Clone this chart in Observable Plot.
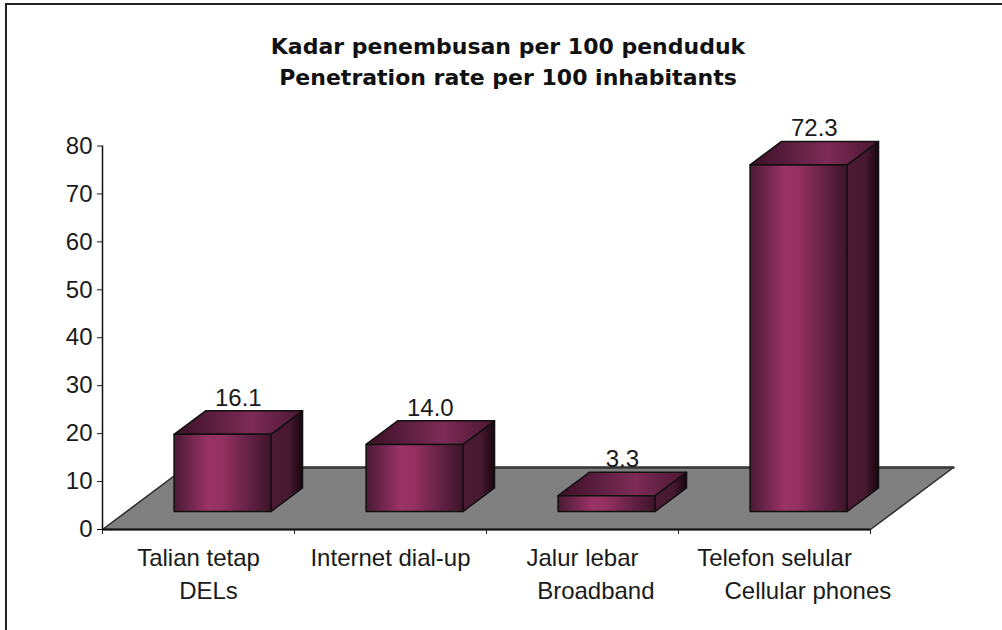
<!DOCTYPE html>
<html>
<head>
<meta charset="utf-8">
<script src="https://cdn.jsdelivr.net/npm/d3@7"></script>
<script src="https://cdn.jsdelivr.net/npm/@observablehq/plot@0.6"></script>
<style>
  html, body { margin: 0; padding: 0; background: #fff; overflow: hidden; }
  #page { position: relative; width: 1002px; height: 630px; overflow: hidden; background: #fff; }
  #border { position: absolute; left: 5px; top: 3px; width: 1100px; height: 700px; border-left: 2px solid #222; border-top: 2px solid #222; box-sizing: border-box; pointer-events: none; }
  #title { position: absolute; left: 0; top: 31px; width: 1002px; padding-left: 14px; box-sizing: border-box; text-align: center; font: bold 22px/31px "DejaVu Sans", sans-serif; color: #111; }
  #chart { position: absolute; left: 0; top: 100px; }
</style>
</head>
<body>
<div id="page">
  <div id="border"></div>
  <div id="title"></div>
  <div id="chart"></div>
</div>
<script>
// ---- data ----
const titleLines = ["Kadar penembusan per 100 penduduk", "Penetration rate per 100 inhabitants"];
const categories = ["Talian tetap", "Internet dial-up", "Jalur lebar", "Telefon selular"];
const categoriesEn = ["\u00a0\u00a0\u00a0DELs", "", "\u00a0\u00a0\u00a0\u00a0Broadband", "\u00a0\u00a0\u00a0\u00a0\u00a0\u00a0\u00a0\u00a0\u00a0\u00a0Cellular phones"];
const values = [16.1, 14.0, 3.3, 72.3];
const yTicks = [0, 10, 20, 30, 40, 50, 60, 70, 80];

// ---- title ----
const titleEl = document.getElementById("title");
titleLines.forEach((t, i) => {
  if (i) titleEl.appendChild(document.createElement("br"));
  titleEl.appendChild(document.createTextNode(t));
});

// ---- 3D projection (in data units) ----
const DX = 0.432;  // floor depth along x (category units)
const DY = 12.93;  // floor depth along y (value units)
const F1 = 0.29, F2 = 0.67; // bar front/back depth fractions
const W = 0.505;   // bar width (category units)
const P = (c, f, v) => ({x: c + f * DX, y: v + f * DY});

const boundaries = d3.range(categories.length + 1);
const floor = [[0, 0], [categories.length, 0], [categories.length, 1], [0, 1]]
  .map(([c, f]) => ({...P(c, f, 0), id: "floor"}));
const floorBack = [[0, 1], [categories.length, 1]].map(([c, f]) => ({...P(c, f, 0)}));
const front = [], topF = [], side = [];
values.forEach((v, i) => {
  const L = i + 0.5 - W / 2, R = i + 0.5 + W / 2;
  front.push(...[[L, F1, 0], [R, F1, 0], [R, F1, v], [L, F1, v]].map(p => ({...P(...p), id: i})));
  topF.push(...[[L, F1, v], [R, F1, v], [R, F2, v], [L, F2, v]].map(p => ({...P(...p), id: i})));
  side.push(...[[R, F1, 0], [R, F2, 0], [R, F2, v], [R, F1, v]].map(p => ({...P(...p), id: i})));
});

const defs = () => {
  const g = d3.create("svg:defs");
  const mk = (id, stops) => {
    const lg = g.append("linearGradient").attr("id", id)
      .attr("x1", 0).attr("x2", 1).attr("y1", 0).attr("y2", 0);
    stops.forEach(([o, c]) => lg.append("stop").attr("offset", o).attr("stop-color", c));
  };
  mk("gFront", [[0, "#4a1a33"], [0.35, "#993366"], [0.5, "#94305f"], [0.8, "#5e2040"], [1, "#3e1329"]]);
  mk("gTop", [[0, "#3a1026"], [0.6, "#7d2b55"], [1, "#4a1731"]]);
  mk("gSide", [[0, "#4c1a33"], [0.6, "#461830"], [1, "#150509"]]);
  return g.node();
};

const chart = Plot.plot({
  width: 1002,
  height: 530,
  marginLeft: 102,
  marginRight: 132,
  marginTop: 45.5,
  marginBottom: 101,
  style: {fontFamily: "'Liberation Sans', Arial, sans-serif", fontSize: "24px", color: "#1a1a1a", background: "transparent", overflow: "visible"},
  x: {type: "linear", domain: [0, categories.length]},
  y: {type: "linear", domain: [0, 80]},
  marks: [
    defs,
    Plot.line(floor, {x: "x", y: "y", z: "id", curve: "linear-closed", fill: "#808080", stroke: "#2a2a2a", strokeWidth: 1.5}),
    Plot.line(floorBack, {x: "x", y: "y", stroke: "#3a3a3a", strokeWidth: 2.5}),
    Plot.line(side, {x: "x", y: "y", z: "id", curve: "linear-closed", fill: "url(#gSide)", stroke: "#111", strokeWidth: 1.5}),
    Plot.line(topF, {x: "x", y: "y", z: "id", curve: "linear-closed", fill: "url(#gTop)", stroke: "#111", strokeWidth: 1.5}),
    Plot.line(front, {x: "x", y: "y", z: "id", curve: "linear-closed", fill: "url(#gFront)", stroke: "#111", strokeWidth: 1.5}),
    Plot.ruleX([0], {y1: 0, y2: 80, stroke: "#111", strokeWidth: 1.5}),
    Plot.ruleY([0], {x1: 0, x2: categories.length, stroke: "#111", strokeWidth: 2}),
    Plot.axisY({ticks: yTicks, tickSize: 5, tickPadding: 5, label: null, tickFormat: d => String(d), fontSize: 24}),
    Plot.axisX({ticks: boundaries, tickSize: 5, label: null, tickFormat: () => ""}),
    Plot.text(values, {x: (d, i) => i + 0.5 + (F1 + F2) / 2 * DX, y: d => d + F2 * DY, text: d => d3.format(".1f")(d), dy: -5, lineAnchor: "bottom", fontSize: 24, fill: "#1a1a1a"}),
    Plot.text(categories, {x: (d, i) => i + 0.5, y: 0, text: d => d, dy: 36, lineAnchor: "bottom", fontSize: 24, fill: "#1a1a1a"}),
    Plot.text(categoriesEn, {x: (d, i) => i + 0.5, y: 0, text: d => d, dy: 69, lineAnchor: "bottom", fontSize: 24, fill: "#1a1a1a"})
  ]
});
document.getElementById("chart").appendChild(chart);
</script>
</body>
</html>
